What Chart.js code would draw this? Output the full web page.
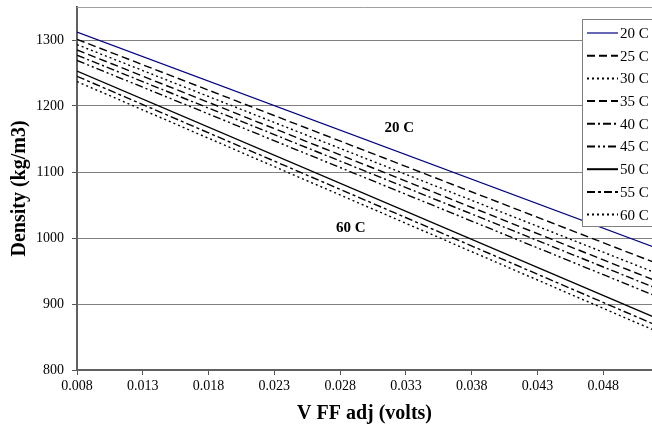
<!DOCTYPE html>
<html>
<head>
<meta charset="utf-8">
<script src="https://cdn.jsdelivr.net/npm/chart.js@4.4.1/dist/chart.umd.min.js"></script>
<style>
  html, body { margin: 0; padding: 0; background: #fff; overflow: hidden; }
  #wrap { position: relative; width: 652px; height: 430px; }
</style>
</head>
<body>
<div id="wrap"><canvas id="graph"></canvas></div>
<script>
// V FF adj end points of each calibration line
var vAdj = [0.008, 0.052];

// density (kg/m3) at the two end points, one line per temperature
var density20 = [1312, 985];
var density25 = [1301, 962];
var density30 = [1293, 947];
var density35 = [1285, 935];
var density40 = [1277, 924];
var density45 = [1269, 912];
var density50 = [1253, 879];
var density55 = [1245, 868];
var density60 = [1237, 859];

var seriesNames = ['20 C', '25 C', '30 C', '35 C', '40 C', '45 C', '50 C', '55 C', '60 C'];
var seriesValues = [density20, density25, density30, density35, density40, density45, density50, density55, density60];

var xTicks = [0.008, 0.013, 0.018, 0.023, 0.028, 0.033, 0.038, 0.043, 0.048];
var yTicks = [800, 900, 1000, 1100, 1200, 1300];

// in-plot labels at the top and bottom lines
var lineNotes = [
    { text: '20 C', v: 0.0325, d: 1167 },
    { text: '60 C', v: 0.0288, d: 1015 }
];

var lineStyles = [
    { color: '#000080', dash: [] },
    { color: '#000', dash: [8, 4] },
    { color: '#000', dash: [2, 3] },
    { color: '#000', dash: [8, 4] },
    { color: '#000', dash: [8, 3, 2, 3] },
    { color: '#000', dash: [8, 3, 2, 3, 2, 3] },
    { color: '#000', dash: [] },
    { color: '#000', dash: [8, 3, 3, 3] },
    { color: '#000', dash: [2, 3] }
];

var serif = "'Liberation Serif', 'Times New Roman', serif";

var datasets = seriesNames.map(function (name, i) {
    return {
        label: name,
        data: vAdj.map(function (v, j) { return { x: v, y: seriesValues[i][j] }; }),
        borderColor: lineStyles[i].color,
        borderDash: lineStyles[i].dash,
        borderWidth: i === 0 ? 1.2 : 1.4,
        pointRadius: 0,
        tension: 0,
        fill: false
    };
});

var extras = {
    id: 'extras',
    afterDatasetsDraw: function (chart) {
        var ctx = chart.ctx;
        var area = chart.chartArea;
        var xs = chart.scales.x, ys = chart.scales.y;
        ctx.save();

        // top edge of plot area
        ctx.strokeStyle = '#a0a0a0';
        ctx.lineWidth = 1;
        ctx.beginPath();
        ctx.moveTo(area.left, area.top + 0.5);
        ctx.lineTo(area.right, area.top + 0.5);
        ctx.stroke();

        // line labels
        ctx.fillStyle = '#000';
        ctx.font = 'bold 15px ' + serif;
        ctx.textAlign = 'center';
        ctx.textBaseline = 'middle';
        lineNotes.forEach(function (n) {
            ctx.fillText(n.text, xs.getPixelForValue(n.v), ys.getPixelForValue(n.d));
        });

        // legend box
        var bx = 582, by = 19, bw = 80, bh = 207;
        ctx.fillStyle = '#fff';
        ctx.fillRect(bx, by, bw, bh);
        ctx.strokeStyle = '#808080';
        ctx.strokeRect(bx + 0.5, by + 0.5, bw, bh);

        ctx.font = '15px ' + serif;
        ctx.textAlign = 'left';
        chart.data.datasets.forEach(function (ds, i) {
            var rowY = 33 + i * 22.7;
            ctx.strokeStyle = ds.borderColor;
            ctx.lineWidth = i === 0 ? 1.2 : 2;
            ctx.setLineDash(ds.borderDash);
            ctx.beginPath();
            ctx.moveTo(587, rowY);
            ctx.lineTo(618, rowY);
            ctx.stroke();
            ctx.setLineDash([]);
            ctx.fillStyle = '#000';
            ctx.fillText(ds.label, 620, rowY + 1);
        });
        ctx.restore();
    }
};

var ctx = document.getElementById('graph').getContext('2d');
var graph = new Chart(ctx, {
    type: 'line',
    data: { datasets: datasets },
    plugins: [extras],
    options: {
        responsive: true,
        maintainAspectRatio: false,
        animation: false,
        devicePixelRatio: 1,
        layout: { padding: { top: 7, right: 0, bottom: 0, left: 0 } },
        plugins: {
            legend: { display: false },
            tooltip: { enabled: false }
        },
        scales: {
            x: {
                type: 'linear',
                position: 'bottom',
                min: 0.008,
                max: 0.0517,
                afterBuildTicks: function (scale) {
                    scale.ticks = xTicks.map(function (v) { return { value: v }; });
                },
                afterFit: function (scale) { scale.height = 60; },
                grid: {
                    drawOnChartArea: false,
                    drawTicks: true,
                    tickLength: 5,
                    tickColor: '#555'
                },
                border: { color: '#606060', width: 2 },
                ticks: {
                    color: '#000',
                    padding: 3,
                    maxRotation: 0,
                    autoSkip: false,
                    font: { family: serif, size: 14 },
                    callback: function (v) { return v.toFixed(3); }
                },
                title: {
                    display: true,
                    text: 'V FF adj (volts)',
                    color: '#000',
                    padding: { top: 0, bottom: 4 },
                    font: { family: serif, size: 20, weight: 'bold' }
                }
            },
            y: {
                type: 'linear',
                position: 'left',
                min: 800,
                max: 1350,
                afterBuildTicks: function (scale) {
                    scale.ticks = yTicks.map(function (v) { return { value: v }; });
                },
                afterFit: function (scale) {
                    scale.width = 77;
                    scale.paddingTop = 0;
                    scale.paddingBottom = 0;
                },
                grid: {
                    color: '#808080',
                    lineWidth: 1,
                    tickLength: 5,
                    tickColor: '#555'
                },
                border: { color: '#606060', width: 2 },
                ticks: {
                    color: '#000',
                    padding: 8,
                    font: { family: serif, size: 14 },
                    callback: function (v) { return String(v); }
                },
                title: {
                    display: true,
                    text: 'Density (kg/m3)',
                    color: '#000',
                    padding: { top: 8, bottom: 0 },
                    font: { family: serif, size: 20, weight: 'bold' }
                }
            }
        }
    }
});
</script>
</body>
</html>
